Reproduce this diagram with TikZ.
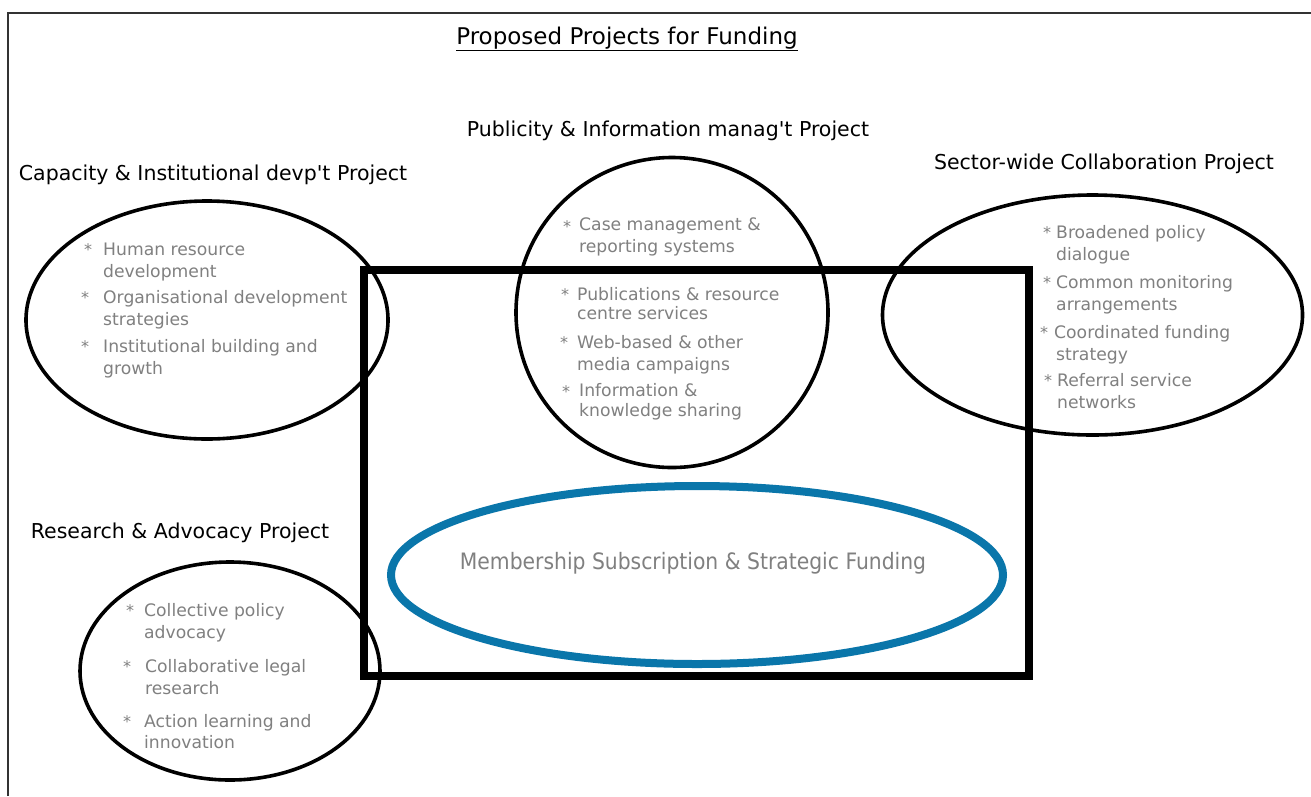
\documentclass[tikz,border=0pt]{standalone}
\usepackage{fontspec}
\setmainfont{DejaVu Sans}
\newfontfamily\headfont{DejaVu Sans}
\newfontfamily\corefont{DejaVu Sans Condensed}
\newfontfamily\bodyfont{DejaVu Sans}
\definecolor{txtgray}{HTML}{808080}
\definecolor{ringblue}{HTML}{0A76AA}
\definecolor{framegray}{HTML}{333333}
\tikzset{
  ring/.style={draw=black, line width=3.6pt},
  bluering/.style={draw=ringblue, line width=8pt},
  bigbox/.style={draw=black, line width=8pt},
  heading/.style={inner sep=0pt, anchor=base, font=\headfont\fontsize{20.5}{24}\selectfont, text=black},
  bodyline/.style={inner sep=0pt, anchor=base west, font=\bodyfont\fontsize{17.2}{21}\selectfont, text=txtgray},
  star/.style={inner sep=0pt, anchor=base, font=\bodyfont\fontsize{16}{21}\selectfont, text=txtgray},
}
\begin{document}
\begin{tikzpicture}[x=1pt,y=-1pt]
\useasboundingbox (0,0) rectangle (1311,796);
\fill[white] (0,0) rectangle (1311,796);
% outer frame
\draw[framegray, line width=2pt] (8,796) -- (8,13) -- (1311,13);

% title
\node[heading, font=\headfont\fontsize{23}{27}\selectfont] (title) at (627,44) {\underline{Proposed Projects for Funding}};

% headings
\node[heading] (hcap) at (213,180) {Capacity \& Institutional devp't Project};
\node[heading] (hpub) at (668,136) {Publicity \& Information manag't Project};
\node[heading] (hsec) at (1104,169) {Sector-wide Collaboration Project};
\node[heading] (hres) at (180,538) {Research \& Advocacy Project};

% rectangle
\draw[bigbox] (364,270) rectangle (1029,676);

% ellipses
\draw[ring] (207,320) ellipse [x radius=181, y radius=119];
\draw[ring] (672,312.5) ellipse [x radius=156, y radius=155];
\draw[ring] (1092.5,315) ellipse [x radius=210, y radius=120];
\draw[ring] (230,671) ellipse [x radius=150, y radius=109];
\draw[bluering] (697,575) ellipse [x radius=306, y radius=89];

% central text
\node[inner sep=0pt, anchor=base, font=\corefont\fontsize{22.6}{26}\selectfont, text=txtgray] (core) at (693,569) {Membership Subscription \& Strategic Funding};

% Capacity items
\node[star] (s1) at (88,255) {*};
\node[bodyline] (c1a) at (103,255) {Human resource};
\node[bodyline] (c1b) at (103,277) {development};
\node[star] (s2) at (85,303) {*};
\node[bodyline] (c2a) at (103,303) {Organisational development};
\node[bodyline] (c2b) at (103,325) {strategies};
\node[star] (s3) at (85,352) {*};
\node[bodyline] (c3a) at (103,352) {Institutional building and};
\node[bodyline] (c3b) at (103,374) {growth};

% Publicity items
\node[star] (s4) at (567,232) {*};
\node[bodyline] (p1a) at (579,230) {Case management \&};
\node[bodyline] (p1b) at (579,252) {reporting systems};
\node[star] (s5) at (565,300) {*};
\node[bodyline] (p2a) at (577,300) {Publications \& resource};
\node[bodyline] (p2b) at (577,319) {centre services};
\node[star] (s6) at (564,348) {*};
\node[bodyline] (p3a) at (577,348) {Web-based \& other};
\node[bodyline] (p3b) at (577,370) {media campaigns};
\node[star] (s7) at (566,397) {*};
\node[bodyline] (p4a) at (579,396) {Information \&};
\node[bodyline] (p4b) at (579,416) {knowledge sharing};

% Sector-wide items
\node[star] (s8) at (1047,238) {*};
\node[bodyline] (w1a) at (1056,238) {Broadened policy};
\node[bodyline] (w1b) at (1056,260) {dialogue};
\node[star] (s9) at (1047,288) {*};
\node[bodyline] (w2a) at (1056,288) {Common monitoring};
\node[bodyline] (w2b) at (1056,310) {arrangements};
\node[star] (s10) at (1044,338) {*};
\node[bodyline] (w3a) at (1054,338) {Coordinated funding};
\node[bodyline] (w3b) at (1056,360) {strategy};
\node[star] (s11) at (1048,386) {*};
\node[bodyline] (w4a) at (1057,386) {Referral service};
\node[bodyline] (w4b) at (1057,408) {networks};

% Research items
\node[star] (s12) at (130,616) {*};
\node[bodyline] (r1a) at (144,616) {Collective policy};
\node[bodyline] (r1b) at (144,638) {advocacy};
\node[star] (s13) at (127,672) {*};
\node[bodyline] (r2a) at (145,672) {Collaborative legal};
\node[bodyline] (r2b) at (145,694) {research};
\node[star] (s14) at (127,727) {*};
\node[bodyline] (r3a) at (144,727) {Action learning and};
\node[bodyline] (r3b) at (144,748) {innovation};
\end{tikzpicture}
\end{document}
